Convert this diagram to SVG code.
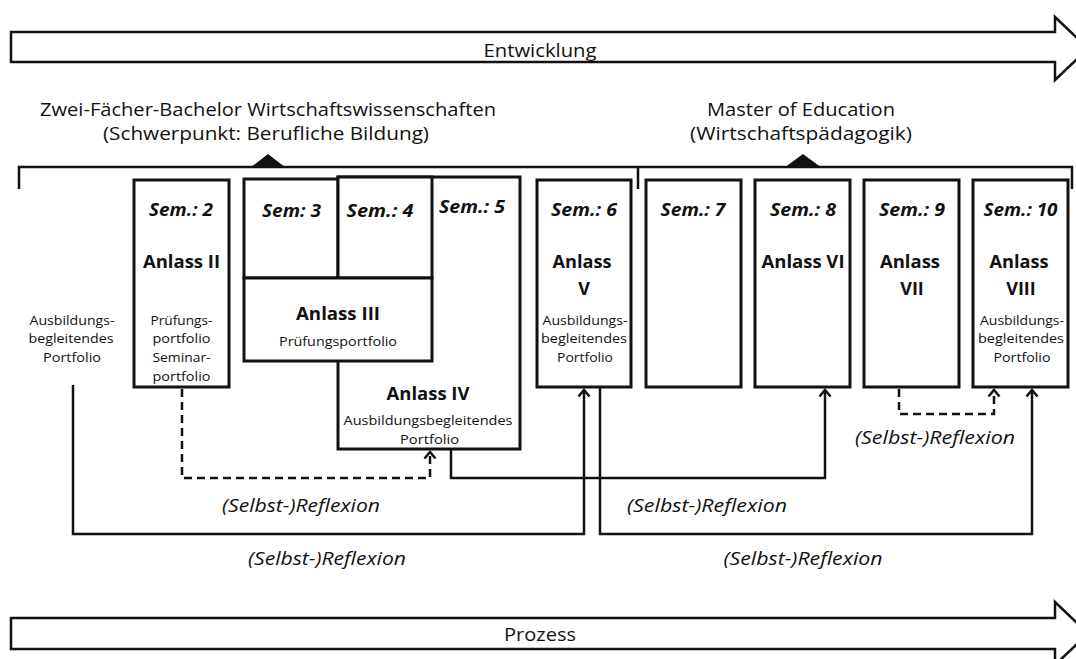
<svg xmlns="http://www.w3.org/2000/svg" width="1076" height="659" viewBox="0 0 1076 659">
<defs>
<style>
text{font-family:"Open Sans","Liberation Sans",sans-serif;fill:#111;text-anchor:middle}
.t{font-size:18.5px}
.sem{font-size:18px;font-weight:bold;font-style:italic}
.an{font-size:18px;font-weight:bold}
.sm{font-size:13.5px}
.rf{font-size:19px;font-style:italic}
.box{fill:#fff;stroke:#111;stroke-width:3}
.big{fill:#fff;stroke:#111;stroke-width:2.5;stroke-linejoin:miter}
.ln{fill:none;stroke:#111;stroke-width:2.5}
.dash{fill:none;stroke:#111;stroke-width:2.5;stroke-dasharray:8 5}
</style>
<marker id="ah" viewBox="-8 -8 16 16" markerWidth="16" markerHeight="16" refX="0" refY="0" orient="auto" markerUnits="userSpaceOnUse">
<path d="M -6.5 -5.5 L 0 0 L -6.5 5.5" fill="none" stroke="#111" stroke-width="2.5"/>
</marker>
</defs>

<g id="arrow-entwicklung">
<polygon class="big" points="11,32 1055,32 1055,17 1088,48.5 1055,80 1055,62 11,62"/>
<text class="t" x="540" y="57" textLength="113" lengthAdjust="spacingAndGlyphs">Entwicklung</text>
</g>

<g id="bracket">
<polyline class="ln" stroke-width="3" points="19,189 19,167 1072,167 1072,189"/>
<line class="ln" stroke-width="3" x1="638" y1="167" x2="638" y2="189"/>
<polygon points="268,154 250,168 286,168" fill="#111"/>
<polygon points="803,154 784,168 822,168" fill="#111"/>
</g>

<g id="title-bachelor">
<text class="t" x="268" y="116" textLength="456" lengthAdjust="spacingAndGlyphs">Zwei-Fächer-Bachelor Wirtschaftswissenschaften</text>
<text class="t" x="266" y="140" textLength="326" lengthAdjust="spacingAndGlyphs">(Schwerpunkt: Berufliche Bildung)</text>
</g>
<g id="title-master">
<text class="t" x="801" y="116" textLength="188" lengthAdjust="spacingAndGlyphs">Master of Education</text>
<text class="t" x="801" y="140" textLength="222" lengthAdjust="spacingAndGlyphs">(Wirtschaftspädagogik)</text>
</g>

<g id="anlass-i">
<text class="sm" x="72" y="325" textLength="85" lengthAdjust="spacingAndGlyphs">Ausbildungs-</text>
<text class="sm" x="71" y="343" textLength="85" lengthAdjust="spacingAndGlyphs">begleitendes</text>
<text class="sm" x="72" y="362" textLength="58" lengthAdjust="spacingAndGlyphs">Portfolio</text>
</g>

<g id="sem2">
<rect class="box" x="134" y="180" width="95" height="207"/>
<text class="sem" x="181" y="216" textLength="64" lengthAdjust="spacingAndGlyphs">Sem.: 2</text>
<text class="an" x="181.5" y="268" textLength="77" lengthAdjust="spacingAndGlyphs">Anlass II</text>
<text class="sm" x="181.5" y="325" textLength="62" lengthAdjust="spacingAndGlyphs">Prüfungs-</text>
<text class="sm" x="181.5" y="343" textLength="58" lengthAdjust="spacingAndGlyphs">portfolio</text>
<text class="sm" x="181.5" y="362" textLength="58" lengthAdjust="spacingAndGlyphs">Seminar-</text>
<text class="sm" x="181.5" y="381" textLength="58" lengthAdjust="spacingAndGlyphs">portfolio</text>
</g>

<g id="sem5-anlass-iv">
<rect class="box" x="338" y="177" width="182" height="272"/>
<text class="sem" x="472" y="213" textLength="66" lengthAdjust="spacingAndGlyphs">Sem.: 5</text>
<text class="an" x="428" y="400" textLength="83" lengthAdjust="spacingAndGlyphs">Anlass IV</text>
<text class="sm" x="428" y="425" textLength="169" lengthAdjust="spacingAndGlyphs">Ausbildungsbegleitendes</text>
<text class="sm" x="429.5" y="444" textLength="59" lengthAdjust="spacingAndGlyphs">Portfolio</text>
</g>

<g id="sem3">
<rect class="box" x="244" y="179" width="94" height="99"/>
<text class="sem" x="291.5" y="217" textLength="59" lengthAdjust="spacingAndGlyphs">Sem: 3</text>
</g>

<g id="sem4">
<rect class="box" x="338" y="177" width="94" height="101"/>
<text class="sem" x="380" y="217" textLength="67" lengthAdjust="spacingAndGlyphs">Sem.: 4</text>
</g>

<g id="anlass-iii">
<rect class="box" x="244" y="278" width="188" height="83"/>
<text class="an" x="338" y="320" textLength="84" lengthAdjust="spacingAndGlyphs">Anlass III</text>
<text class="sm" x="338" y="346" textLength="118" lengthAdjust="spacingAndGlyphs">Prüfungsportfolio</text>
</g>

<g id="sem6">
<rect class="box" x="537" y="180" width="94" height="207"/>
<text class="sem" x="584" y="216" textLength="66" lengthAdjust="spacingAndGlyphs">Sem.: 6</text>
<text class="an" x="582" y="268" textLength="59" lengthAdjust="spacingAndGlyphs">Anlass</text>
<text class="an" x="584" y="295">V</text>
<text class="sm" x="585" y="325" textLength="85" lengthAdjust="spacingAndGlyphs">Ausbildungs-</text>
<text class="sm" x="584" y="343" textLength="86" lengthAdjust="spacingAndGlyphs">begleitendes</text>
<text class="sm" x="585" y="362" textLength="56" lengthAdjust="spacingAndGlyphs">Portfolio</text>
</g>

<g id="sem7">
<rect class="box" x="646" y="180" width="95" height="207"/>
<text class="sem" x="693" y="216" textLength="65" lengthAdjust="spacingAndGlyphs">Sem.: 7</text>
</g>

<g id="sem8">
<rect class="box" x="755" y="180" width="95" height="207"/>
<text class="sem" x="803" y="216" textLength="66" lengthAdjust="spacingAndGlyphs">Sem.: 8</text>
<text class="an" x="803" y="268" textLength="83" lengthAdjust="spacingAndGlyphs">Anlass VI</text>
</g>

<g id="sem9">
<rect class="box" x="864" y="180" width="95" height="207"/>
<text class="sem" x="912" y="216" textLength="66" lengthAdjust="spacingAndGlyphs">Sem.: 9</text>
<text class="an" x="910" y="268" textLength="60" lengthAdjust="spacingAndGlyphs">Anlass</text>
<text class="an" x="912" y="295">VII</text>
</g>

<g id="sem10">
<rect class="box" x="973" y="180" width="95" height="207"/>
<text class="sem" x="1020.5" y="216" textLength="74" lengthAdjust="spacingAndGlyphs">Sem.: 10</text>
<text class="an" x="1019" y="268" textLength="59" lengthAdjust="spacingAndGlyphs">Anlass</text>
<text class="an" x="1021" y="295">VIII</text>
<text class="sm" x="1022" y="325" textLength="84" lengthAdjust="spacingAndGlyphs">Ausbildungs-</text>
<text class="sm" x="1021" y="343" textLength="86" lengthAdjust="spacingAndGlyphs">begleitendes</text>
<text class="sm" x="1022" y="362" textLength="57" lengthAdjust="spacingAndGlyphs">Portfolio</text>
</g>

<g id="connectors">
<path class="ln" d="M73,385 V534 H584 V390" marker-end="url(#ah)"/>
<path class="dash" d="M182,389 V478 H430 V452" marker-end="url(#ah)"/>
<path class="ln" d="M451,450 V478 H825 V390" marker-end="url(#ah)"/>
<path class="ln" d="M600,388 V534 H1032 V390" marker-end="url(#ah)"/>
<path class="dash" d="M899,389 V414 H994 V390" marker-end="url(#ah)"/>
<text class="rf" x="301" y="512" textLength="158" lengthAdjust="spacingAndGlyphs">(Selbst-)Reflexion</text>
<text class="rf" x="327" y="565" textLength="158" lengthAdjust="spacingAndGlyphs">(Selbst-)Reflexion</text>
<text class="rf" x="707" y="512" textLength="160" lengthAdjust="spacingAndGlyphs">(Selbst-)Reflexion</text>
<text class="rf" x="803" y="565" textLength="159" lengthAdjust="spacingAndGlyphs">(Selbst-)Reflexion</text>
<text class="rf" x="935" y="444" textLength="160" lengthAdjust="spacingAndGlyphs">(Selbst-)Reflexion</text>
</g>

<g id="arrow-prozess">
<polygon class="big" points="11,618 1055,618 1055,602 1088,633.5 1055,665 1055,649 11,649"/>
<text class="t" x="540" y="641" textLength="72" lengthAdjust="spacingAndGlyphs">Prozess</text>
</g>
</svg>
